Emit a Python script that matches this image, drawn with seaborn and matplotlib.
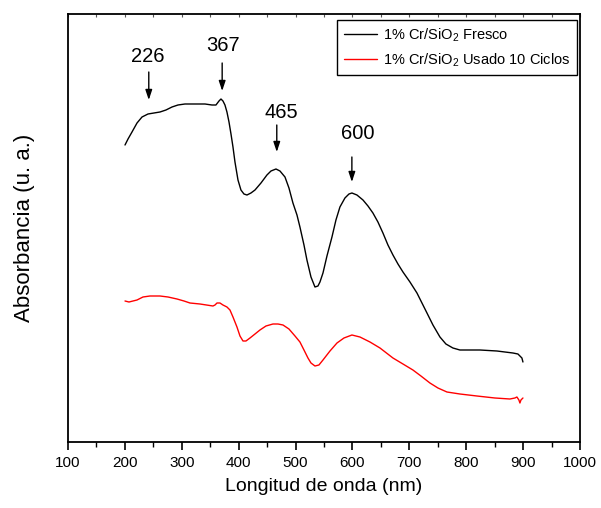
import numpy as np
import pandas as pd
import matplotlib
matplotlib.use("Agg")
import matplotlib.pyplot as plt
import seaborn as sns

# Fresh catalyst spectrum
wl_fresh = [200.2, 205.5, 212.5, 221.3, 230.1, 240.6, 251.1, 261.7, 272.2, 282.8,
            293.3, 305.6, 317.9, 328.5, 340.8, 353.1, 360.1, 365.4, 368.9, 372.4,
            375.9, 379.4, 383.0, 386.5, 390.0, 393.5, 398.8, 404.0, 409.3, 414.6,
            421.6, 428.7, 439.2, 449.7, 456.8, 465.6, 472.6, 481.4, 488.4, 495.4,
            502.5, 507.7, 514.8, 520.0, 527.1, 534.1, 539.4, 542.9, 548.2, 555.2,
            564.0, 571.0, 578.0, 586.8, 593.9, 599.1, 607.9, 618.5, 627.3, 636.0,
            644.8, 653.6, 662.4, 671.2, 680.0, 688.8, 701.1, 713.4, 722.2, 731.0,
            741.5, 753.8, 764.3, 776.6, 788.9, 801.2, 824.1, 854.0, 868.0, 882.1,
            890.9, 894.4, 897.9, 899.7]
abs_fresh = [2.97, 3.03, 3.10, 3.19, 3.25, 3.28, 3.29, 3.30, 3.32, 3.35,
             3.37, 3.38, 3.38, 3.38, 3.38, 3.37, 3.37, 3.41, 3.43, 3.41,
             3.37, 3.30, 3.20, 3.08, 2.95, 2.80, 2.62, 2.52, 2.48, 2.47,
             2.49, 2.52, 2.59, 2.67, 2.71, 2.73, 2.71, 2.65, 2.54, 2.39,
             2.27, 2.15, 1.97, 1.82, 1.65, 1.55, 1.56, 1.60, 1.69, 1.86,
             2.05, 2.22, 2.35, 2.44, 2.48, 2.49, 2.47, 2.42, 2.36, 2.29,
             2.20, 2.09, 1.97, 1.87, 1.78, 1.70, 1.60, 1.49, 1.39, 1.29,
             1.17, 1.05, 0.98, 0.94, 0.92, 0.92, 0.92, 0.91, 0.90, 0.89,
             0.88, 0.86, 0.84, 0.80]

# Catalyst after 10 cycles
wl_used = [200.2, 207.2, 214.2, 221.3, 231.8, 244.1, 261.7, 275.8, 291.6, 303.9,
           314.4, 332.0, 354.8, 358.4, 361.9, 367.1, 372.4, 379.4, 384.7, 390.0,
           397.0, 402.3, 407.6, 412.8, 419.9, 428.7, 437.4, 448.0, 460.3, 469.1,
           477.9, 488.4, 499.0, 507.7, 514.8, 521.8, 527.1, 534.1, 541.1, 548.2,
           560.5, 572.8, 585.1, 599.1, 613.2, 630.8, 648.4, 671.2, 688.8, 706.3,
           720.4, 736.2, 750.3, 766.1, 788.9, 818.8, 850.4, 876.8, 885.6, 889.1,
           892.6, 894.4, 896.2, 899.7]
abs_used = [1.41, 1.40, 1.41, 1.42, 1.45, 1.46, 1.46, 1.45, 1.43, 1.41,
            1.39, 1.38, 1.36, 1.37, 1.39, 1.39, 1.37, 1.35, 1.32, 1.25,
            1.15, 1.06, 1.01, 1.01, 1.04, 1.08, 1.12, 1.16, 1.18, 1.18,
            1.17, 1.13, 1.06, 1.00, 0.92, 0.84, 0.79, 0.76, 0.77, 0.82,
            0.91, 0.99, 1.04, 1.07, 1.05, 1.00, 0.94, 0.84, 0.78, 0.72,
            0.66, 0.59, 0.54, 0.50, 0.48, 0.46, 0.44, 0.43, 0.44, 0.45,
            0.42, 0.39, 0.42, 0.44]

series_names = ["1% Cr/SiO$_2$ Fresco", "1% Cr/SiO$_2$ Usado 10 Ciclos"]
series_colors = ["black", "red"]

# Peak annotations: label text, arrow x, arrow tail/head y, label position
peak_labels = ["226", "367", "465", "600"]
arrow_x = [242, 371, 467, 599]
arrow_tail = [3.70, 3.79, 3.17, 2.85]
arrow_head = [3.42, 3.51, 2.90, 2.60]
label_x = [241, 373, 475, 610]
label_y = [3.86, 3.97, 3.30, 3.09]

x_ticks = [100, 200, 300, 400, 500, 600, 700, 800, 900, 1000]

sns.set_style("ticks")
plt.rcParams["font.family"] = ["Liberation Sans", "DejaVu Sans"]
plt.rcParams["mathtext.fontset"] = "custom"
plt.rcParams["mathtext.rm"] = "Liberation Sans"
plt.rcParams["mathtext.it"] = "Liberation Sans"
plt.rcParams["mathtext.bf"] = "Liberation Sans"
plt.rcParams["text.color"] = "black"
plt.rcParams["axes.labelcolor"] = "black"
plt.rcParams["xtick.color"] = "black"
plt.rcParams["ytick.color"] = "black"

df = pd.concat([
    pd.DataFrame({"wl": wl_fresh, "A": abs_fresh, "muestra": series_names[0]}),
    pd.DataFrame({"wl": wl_used, "A": abs_used, "muestra": series_names[1]}),
])

fig = plt.figure(figsize=(6.01, 5.08), dpi=100)
ax = fig.add_axes([68 / 601, 66 / 508, 512 / 601, 428 / 508])

sns.lineplot(data=df, x="wl", y="A", hue="muestra", palette=series_colors,
             sort=False, estimator=None, linewidth=1.0, ax=ax)

ax.set_xlim(100, 1000)
ax.set_ylim(0, 4.28)
ax.set_xticks(x_ticks)
ax.set_xticklabels([str(t) for t in x_ticks], fontsize=11)
ax.set_xticks(np.arange(150, 1000, 100), minor=True)
ax.set_yticks([])
ax.tick_params(axis="x", which="major", direction="out", length=6, width=1.2,
               pad=4)
ax.tick_params(axis="x", which="minor", direction="out", length=3.5, width=1.0)

# short inward ticks along the top edge
top = ax.secondary_xaxis("top")
top.set_xticks(x_ticks)
top.set_xticks(np.arange(150, 1000, 100), minor=True)
top.tick_params(which="both", direction="in", length=2.5, width=0.8,
                color="#555555", labeltop=False)
top.spines["top"].set_visible(False)

for s in ax.spines.values():
    s.set_linewidth(1.3)
    s.set_color("black")

ax.set_xlabel("Longitud de onda (nm)", fontsize=14, labelpad=6)
ax.set_ylabel("Absorbancia (u. a.)", fontsize=16, labelpad=24)

for lab, xa, yt, yh, lx, ly in zip(peak_labels, arrow_x, arrow_tail, arrow_head,
                                   label_x, label_y):
    ax.annotate("", xy=(xa, yh), xytext=(xa, yt),
                arrowprops=dict(arrowstyle="-|>,head_length=0.6,head_width=0.2",
                                color="black", lw=1.0, shrinkA=0, shrinkB=0))
    ax.text(lx, ly, lab, ha="center", va="center", fontsize=14.5)

leg = ax.legend(loc="upper right", bbox_to_anchor=(0.994, 0.986),
                borderaxespad=0, fontsize=10.5, frameon=True, fancybox=False,
                edgecolor="black", framealpha=1, handlelength=2.3,
                handletextpad=0.4, borderpad=0.45, labelspacing=0.5, title=None)
leg.get_frame().set_linewidth(1.0)

fig.savefig("out.png", dpi=100)
